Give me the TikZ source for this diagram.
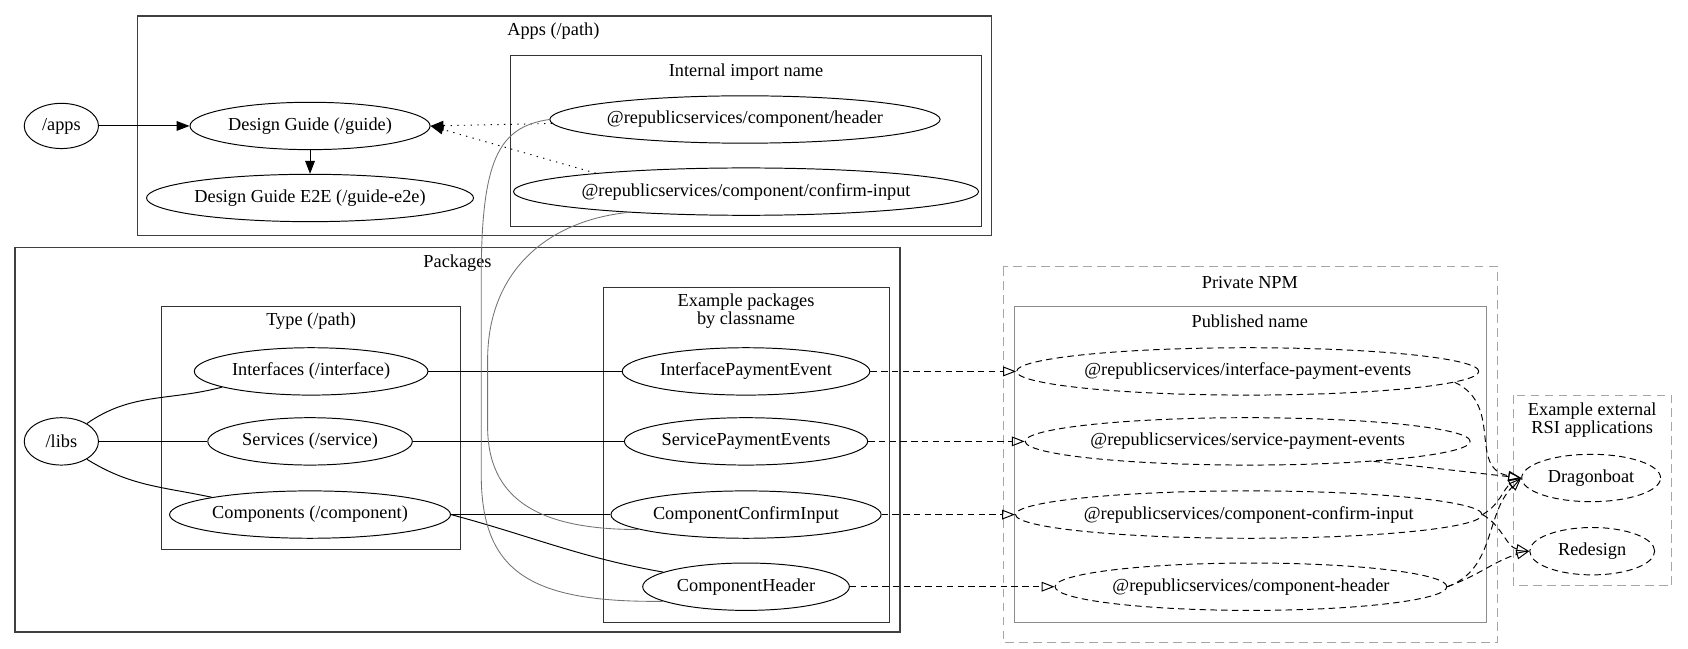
\documentclass[tikz,border=0pt]{standalone}
\usepackage{fontspec}
\setmainfont{Liberation Serif}
\usetikzlibrary{shapes.geometric}
\usetikzlibrary{arrows.meta}
\usetikzlibrary{positioning}

\begin{document}
\begin{tikzpicture}[x=1pt, y=1pt, line width=0.9pt, font=\fontsize{17}{17}\selectfont]
    \tikzstyle{ell}=[ellipse, draw=black, inner sep=0pt, minimum height=44pt]
    \tikzstyle{pubell}=[ell, dash pattern=on 6pt off 4pt]
    \tikzstyle{outer}=[draw=black!75, line width=1.3pt]
    \tikzstyle{cluster}=[draw=black!80]
    \tikzstyle{pubbox}=[draw=black!45]
    \tikzstyle{npm}=[draw=black!35, dash pattern=on 8pt off 5pt]
    \tikzstyle{lbl}=[inner sep=0pt, align=center]
    \tikzstyle{uses}=[-{Triangle[length=12pt,width=9pt]}]
    \tikzstyle{imports}=[uses, dash pattern=on 1.2pt off 5pt]
    \tikzstyle{published}=[-{Triangle[open,length=12pt,width=9pt]}, dash pattern=on 6pt off 4pt]
    \tikzstyle{link}=[draw=black!55, line width=0.8pt]

    \useasboundingbox (0,0) rectangle (1568,-602);

    % clusters
    \draw[outer] (128,-15) rectangle (921,-219);
    \node[lbl] (lapps) at (514,-29) {Apps (/path)};
    \draw[cluster] (474,-52) rectangle (912,-210);
    \node[lbl] (limp) at (693,-67) {Internal import name};
    \draw[outer] (14,-230) rectangle (836,-587);
    \node[lbl] (lpkg) at (425,-244) {Packages};
    \draw[cluster] (150,-285) rectangle (428,-510);
    \node[lbl] (ltype) at (289,-298) {Type (/path)};
    \draw[cluster] (561,-267) rectangle (826,-578);
    \node[lbl] (lclass) at (693,-289) {Example packages\\by classname};
    \draw[npm] (932,-248) rectangle (1391,-597);
    \node[lbl] (lnpm) at (1161,-262) {Private NPM};
    \draw[pubbox] (942,-285) rectangle (1381,-578);
    \node[lbl] (lpub) at (1161,-298) {Published name};
    \draw[npm] (1406,-367) rectangle (1553,-544);
    \node[lbl] (lrsi) at (1479,-390) {Example external\\RSI applications};

    % apps
    \node[ell, minimum width=69pt, minimum height=42pt] (apps) at (57,-117) {/apps};
    \node[ell, minimum width=223pt] (guide) at (288,-117) {Design Guide (/guide)};
    \node[ell, minimum width=303pt, below=22pt of guide] (gde2e) {Design Guide E2E (/guide-e2e)};
    \node[ell, minimum width=356pt] (imphdr) at (692,-111) {@republicservices/component/header};
    \node[ell, minimum width=420pt] (impconf) at (693,-178) {@republicservices/component/confirm-input};

    % packages
    \node[ell, minimum width=69pt] (libs) at (57,-410) {/libs};
    \node[ell, minimum width=217pt] (iface) at (289,-345) {Interfaces (/interface)};
    \node[ell, minimum width=190pt] (svc) at (288,-410) {Services (/service)};
    \node[ell, minimum width=261pt] (comp) at (288,-478) {Components (/component)};
    \node[ell, minimum width=230pt] (ipe) at (693,-345) {InterfacePaymentEvent};
    \node[ell, minimum width=226pt] (spe) at (693,-410) {ServicePaymentEvents};
    \node[ell, minimum width=251pt] (cci) at (693,-478) {ComponentConfirmInput};
    \node[ell, minimum width=192pt] (chdr) at (693,-545) {ComponentHeader};

    % npm
    \node[pubell, minimum width=418pt] (npipe) at (1159,-345) {@republicservices/interface-payment-events};
    \node[pubell, minimum width=398pt] (nspe) at (1159,-410) {@republicservices/service-payment-events};
    \node[pubell, minimum width=420pt] (ncci) at (1160,-478) {@republicservices/component-confirm-input};
    \node[pubell, minimum width=354pt] (nch) at (1162,-545) {@republicservices/component-header};
    \node[pubell, minimum width=129pt] (dragon) at (1478,-444) {Dragonboat};
    \node[pubell, minimum width=116pt] (redes) at (1479,-512) {Redesign};

    \draw[uses] (apps) -- (guide);
    \draw[uses] (guide) -- (gde2e);
    \draw[imports] (imphdr) -- (guide.east);
    \draw[imports] (impconf.173) -- (guide.east);

    \draw (libs.35) to[out=35, in=195] (iface.190);
    \draw (libs) -- (svc);
    \draw (libs.-35) to[out=-32, in=168] (comp.170);
    \draw (iface) -- (ipe);
    \draw (svc) -- (spe);
    \draw (comp) -- (cci);
    \draw (comp.east) to[out=-15, in=170] (chdr.170);

    \draw[link] (imphdr.west) .. controls (462,-118) and (447,-150) .. (447,-260)
        -- (447,-440) .. controls (447,-530) and (490,-560) .. (chdr.190);
    \draw[link] (impconf.190) .. controls (510,-205) and (455,-250) .. (453,-330)
        -- (453,-400) .. controls (455,-470) and (510,-492) .. (cci.188);

    \draw[published] (ipe) -- (npipe);
    \draw[published] (spe) -- (nspe);
    \draw[published] (cci) -- (ncci);
    \draw[published] (chdr) -- (nch);

    \draw[published] (npipe.357) to[out=-25, in=170, looseness=1.2] (dragon.west);
    \draw[published] (nspe.351) -- (dragon.west);
    \draw[published] (ncci.east) to[out=30, in=210] (dragon.west);
    \draw[published] (ncci.east) to[out=-30, in=170] (redes.west);
    \draw[published] (nch.east) to[out=20, in=225] (dragon.west);
    \draw[published] (nch.east) to[out=20, in=195] (redes.west);
\end{tikzpicture}
\end{document}
